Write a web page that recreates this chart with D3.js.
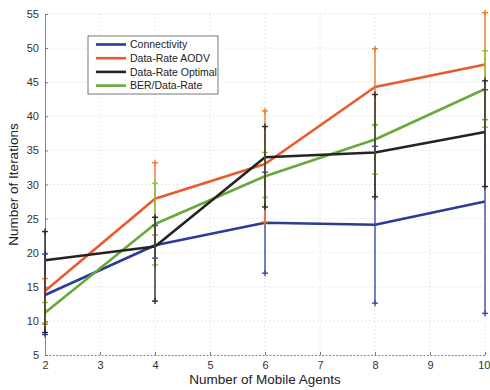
<!DOCTYPE html>
<html>
<head>
<meta charset="utf-8">
<script src="https://cdn.jsdelivr.net/npm/d3@7/dist/d3.min.js"></script>
<style>
  html, body { margin: 0; padding: 0; background: #fff; }
  svg { display: block; font-family: "Liberation Sans", Arial, sans-serif; }
</style>
</head>
<body>
<svg id="chart" width="490" height="390"></svg>
<script>
// Number of mobile agents on the x axis
const agents = [2, 4, 6, 8, 10];
const xTicks = [2, 3, 4, 5, 6, 7, 8, 9, 10];
const yTicks = [5, 10, 15, 20, 25, 30, 35, 40, 45, 50, 55];

// Mean iterations and error-bar ends for each routing metric
const connMean = [13.8, 21.1, 24.4, 24.1, 27.5];
const connLow  = [8.0, 19.2, 17.0, 12.6, 11.1];
const connHigh = [19.8, 24.0, 31.8, 35.6, 43.9];

const aodvMean = [14.4, 27.9, 33.0, 44.3, 47.6];
const aodvLow  = [9.5, 22.6, 24.5, 38.7, 39.5];
const aodvHigh = [16.2, 33.2, 40.8, 49.9, 55.2];

const optMean = [18.9, 20.9, 34.0, 34.7, 37.7];
const optLow  = [8.3, 12.9, 26.7, 28.2, 29.7];
const optHigh = [23.1, 25.2, 38.5, 43.2, 45.2];

const berMean = [11.2, 24.2, 31.2, 36.6, 44.0];
const berLow  = [9.7, 18.2, 28.1, 31.5, 38.4];
const berHigh = [12.7, 30.2, 34.7, 38.8, 49.6];

const seriesNames = ["Connectivity", "Data-Rate AODV", "Data-Rate Optimal", "BER/Data-Rate"];

const series = [
  { name: seriesNames[0], mean: connMean, low: connLow, high: connHigh, line: "#2c3a98", bar: "#3a4cb4" },
  { name: seriesNames[1], mean: aodvMean, low: aodvLow, high: aodvHigh, line: "#ea5a2c", bar: "#f07a2a" },
  { name: seriesNames[3], mean: berMean,  low: berLow,  high: berHigh,  line: "#6aa83a", bar: "#8cc23c" },
  { name: seriesNames[2], mean: optMean,  low: optLow,  high: optHigh,  line: "#232323", bar: "#2a2a2a" }
];

const svg = d3.select("#chart");
const plotLeft = 45, plotRight = 485, plotTop = 14, plotBottom = 355;

const x = d3.scaleLinear().domain([2, 10]).range([plotLeft, plotRight]);
const y = d3.scaleLinear().domain([5, 55]).range([plotBottom, plotTop]);

// dotted grid
const grid = svg.append("g");
grid.selectAll(".gx").data(xTicks.slice(1)).join("line")
  .attr("x1", d => x(d)).attr("x2", d => x(d))
  .attr("y1", plotTop).attr("y2", plotBottom)
  .attr("stroke", "#c8c8c8").attr("stroke-width", 0.8).attr("stroke-dasharray", "1,3");
grid.selectAll(".gy").data(yTicks.slice(1)).join("line")
  .attr("x1", plotLeft).attr("x2", plotRight)
  .attr("y1", d => y(d)).attr("y2", d => y(d))
  .attr("stroke", "#c8c8c8").attr("stroke-width", 0.8).attr("stroke-dasharray", "1,3");

// axes
const xAxis = d3.axisBottom(x).tickValues(xTicks).tickSize(-3).tickPadding(6).tickFormat(d3.format("d"));
const yAxis = d3.axisLeft(y).tickValues(yTicks).tickSize(-3).tickPadding(6).tickFormat(d3.format("d"));

const gx = svg.append("g").attr("transform", `translate(0,${plotBottom})`).call(xAxis);
gx.select(".domain").attr("stroke", "#8a8a8a").attr("stroke-dasharray", "2,1.5");
gx.selectAll(".tick line").attr("stroke", "#777");
gx.selectAll("text").attr("font-size", 11).attr("fill", "#333");
// keep the last label inside the right edge
gx.selectAll(".tick").filter(d => d === 10).select("text").attr("text-anchor", "end").attr("dx", 5);

const gy = svg.append("g").attr("transform", `translate(${plotLeft},0)`).call(yAxis);
gy.select(".domain").attr("stroke", "#7c84a8");
gy.selectAll(".tick line").attr("stroke", "#777");
gy.selectAll("text").attr("font-size", 11).attr("fill", "#333");

// axis titles
svg.append("text")
  .attr("x", (plotLeft + plotRight) / 2).attr("y", 384)
  .attr("text-anchor", "middle").attr("font-size", 13.5).attr("fill", "#222")
  .text("Number of Mobile Agents");
svg.append("text")
  .attr("transform", `translate(18,${(plotTop + plotBottom) / 2}) rotate(-90)`)
  .attr("text-anchor", "middle").attr("font-size", 13.5).attr("fill", "#222")
  .text("Number of Iterations");

// mean lines
const lineGen = d3.line().x((d, i) => x(agents[i])).y(d => y(d));
series.forEach(s => {
  svg.append("path").datum(s.mean)
    .attr("d", lineGen).attr("fill", "none")
    .attr("stroke", s.line).attr("stroke-width", 2.6).attr("stroke-linejoin", "round");
});

// error bars with cap markers
const cap = 3;
series.forEach(s => {
  const g = svg.append("g");
  agents.forEach((a, i) => {
    const cx = x(a);
    g.append("line").attr("x1", cx).attr("x2", cx)
      .attr("y1", y(s.low[i])).attr("y2", y(s.high[i]))
      .attr("stroke", s.bar).attr("stroke-width", 1.4);
    [s.low[i], s.high[i]].forEach(v => {
      g.append("line").attr("x1", cx - cap).attr("x2", cx + cap)
        .attr("y1", y(v)).attr("y2", y(v))
        .attr("stroke", s.bar).attr("stroke-width", 1.4);
      g.append("line").attr("x1", cx).attr("x2", cx)
        .attr("y1", y(v) - cap).attr("y2", y(v) + cap)
        .attr("stroke", s.bar).attr("stroke-width", 1.4);
    });
  });
});

// legend
const legendOrder = [series[0], series[1], series[3], series[2]];
const lg = svg.append("g").attr("transform", "translate(88,36)");
lg.append("rect").attr("width", 130).attr("height", 58)
  .attr("fill", "#fff").attr("stroke", "#555").attr("stroke-width", 0.8);
legendOrder.forEach((s, i) => {
  const yy = 8.5 + i * 13.7;
  lg.append("line").attr("x1", 8).attr("x2", 38).attr("y1", yy).attr("y2", yy)
    .attr("stroke", s.line).attr("stroke-width", 2.6);
  lg.append("text").attr("x", 42).attr("y", yy + 3.6)
    .attr("font-size", 10.5).attr("fill", "#222").text(s.name);
});
</script>
</body>
</html>
